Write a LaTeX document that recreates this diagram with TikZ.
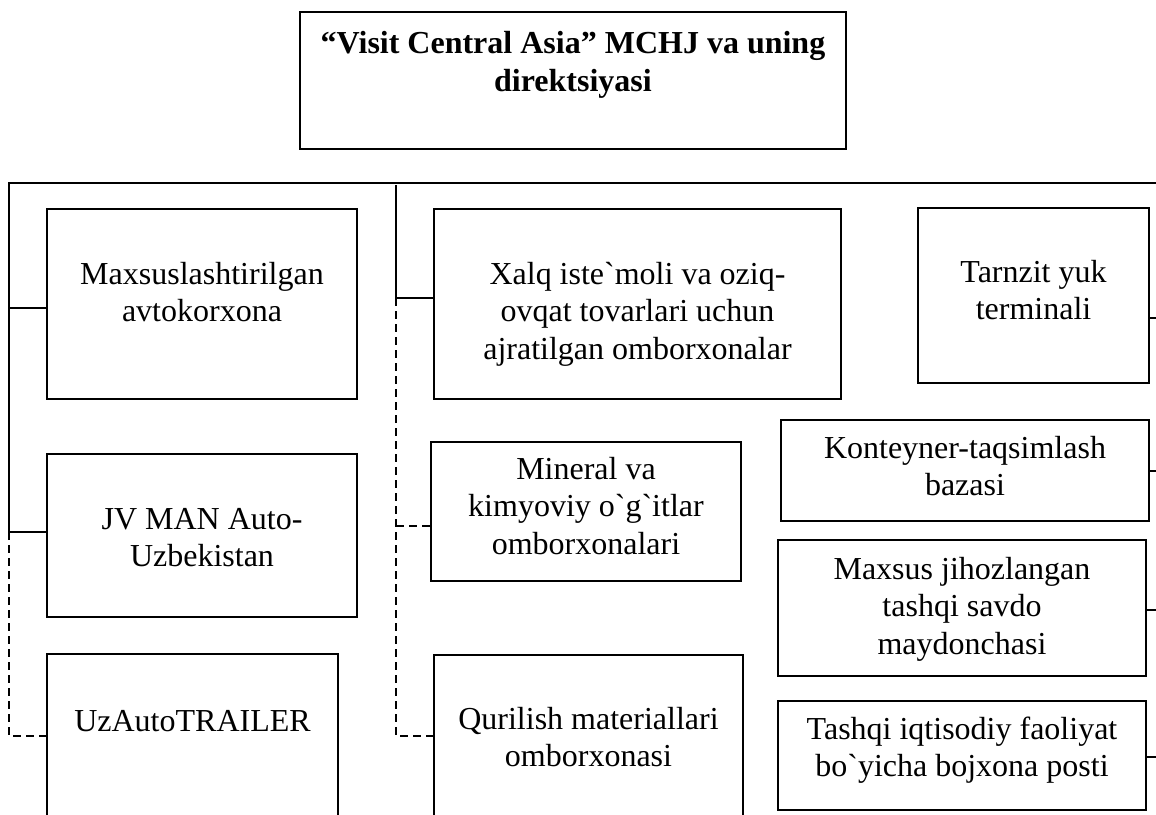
\documentclass[tikz,border=0pt]{standalone}
\usepackage{fontspec}
\setmainfont{Liberation Serif}[Ligatures=TeXOff]
\begin{document}
\begin{tikzpicture}[x=1pt,y=-1pt,
  box/.style={draw, line width=1.3pt, inner sep=0pt, rectangle},
  txt/.style={align=center, inner sep=0pt, font=\fontsize{32}{37.5}\selectfont},
  ttl/.style={align=center, inner sep=0pt, font=\fontsize{32}{38}\selectfont\bfseries},
  conn/.style={line width=1.3pt},
  dconn/.style={line width=1.3pt, dash pattern=on 8pt off 5pt}]
\useasboundingbox (0,0) rectangle (1156,814);
\clip (0,0) rectangle (1156,814);
\fill[white] (0,0) rectangle (1156,814);
% boxes: centre, width, height
\node[box, minimum width=546pt, minimum height=137pt] (top) at (573,80.5) {};
\node[box, minimum width=310pt, minimum height=190pt] (b1) at (202,304) {};
\node[box, minimum width=310pt, minimum height=163pt] (b2) at (202,535.5) {};
\node[box, minimum width=291pt, minimum height=176pt] (b3) at (192.5,742) {};
\node[box, minimum width=407pt, minimum height=190pt] (x1) at (637.5,304) {};
\node[box, minimum width=310pt, minimum height=139pt] (x2) at (586,511.5) {};
\node[box, minimum width=309pt, minimum height=175pt] (x3) at (588.5,742.5) {};
\node[box, minimum width=231pt, minimum height=175pt] (r1) at (1033.5,295.5) {};
\node[box, minimum width=368pt, minimum height=101pt] (r2) at (965,470.5) {};
\node[box, minimum width=368pt, minimum height=136pt] (r3) at (962,608) {};
\node[box, minimum width=368pt, minimum height=109pt] (r4) at (962,755.5) {};
% texts (anchor base = baseline of last line)
\node[ttl, anchor=base] (ttop) at ([yshift=-80pt]top.north) {“Visit Central Asia” MCHJ va uning\\direktsiyasi};
\node[txt, anchor=base] (tb1) at ([yshift=-113.5pt]b1.north) {Maxsuslashtirilgan\\avtokorxona};
\node[txt, anchor=base] (tb2) at ([yshift=-113.5pt]b2.north) {JV MAN Auto-\\Uzbekistan};
\node[txt, anchor=base] (tb3) at ([yshift=-78pt]b3.north) {UzAutoTRAILER};
\node[txt, anchor=base] (tx1) at ([yshift=-151pt]x1.north) {Xalq iste`moli va oziq-\\ovqat tovarlari uchun\\ajratilgan omborxonalar};
\node[txt, anchor=base] (tx2) at ([yshift=-113pt]x2.north) {Mineral va\\kimyoviy o`g`itlar\\omborxonalari};
\node[txt, anchor=base] (tx3) at ([yshift=-112.5pt]x3.north) {Qurilish materiallari\\omborxonasi};
\node[txt, anchor=base] (tr1) at ([yshift=-112.5pt]r1.north) {Tarnzit yuk\\terminali};
\node[txt, anchor=base] (tr2) at ([yshift=-76.5pt]r2.north) {Konteyner-taqsimlash\\bazasi};
\node[txt, anchor=base] (tr3) at ([yshift=-115pt]r3.north) {Maxsus jihozlangan\\tashqi savdo\\maydonchasi};
\node[txt, anchor=base] (tr4) at ([yshift=-76.5pt]r4.north) {Tashqi iqtisodiy faoliyat\\bo`yicha bojxona posti};
% bus coordinates
\coordinate (busL) at (9,183);
\coordinate (busR) at (1156,183);
\coordinate (L1) at (9,308);
\coordinate (L2) at (9,532);
\coordinate (L3) at (9,736);
\coordinate (Mt) at (396,185);
\coordinate (M1) at (396,298);
\coordinate (M2) at (396,526);
\coordinate (M3) at (396,736);
\coordinate (R1) at (1156,318);
\coordinate (R2) at (1156,471);
\coordinate (R3) at (1156,610);
\coordinate (R4) at (1156,757);
% solid connectors
\draw[conn] (busR) -- (busL) -- (L2);
\draw[conn] (L1) -- (L1 -| b1.west);
\draw[conn] (L2) -- (L2 -| b2.west);
\draw[conn] (Mt) -- (M1) -- (M1 -| x1.west);
\draw[conn] (R1 -| r1.east) -- (R1);
\draw[conn] (R2 -| r2.east) -- (R2);
\draw[conn] (R3 -| r3.east) -- (R3);
\draw[conn] (R4 -| r4.east) -- (R4);
% dashed connectors
\draw[dconn] (L2) -- (L3) -- (L3 -| b3.west);
\draw[dconn] (M1) -- (M3) -- (M3 -| x3.west);
\draw[dconn] (M2) -- (M2 -| x2.west);
\end{tikzpicture}
\end{document}
